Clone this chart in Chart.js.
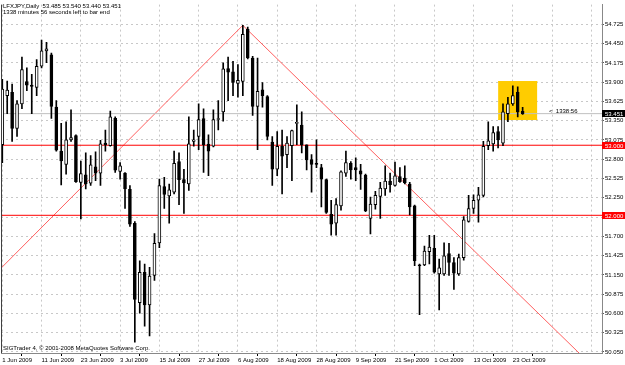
<!DOCTYPE html>
<html lang="en">
<head>
<meta charset="UTF-8">
<title>LFXJPY Daily</title>
<script src="https://cdn.jsdelivr.net/npm/chart.js@4.4.1/dist/chart.umd.min.js"></script>
<style>
  html, body { margin: 0; padding: 0; background: #fff; }
  #wrap { width: 625px; height: 365px; }
</style>
</head>
<body>
<div id="wrap"><canvas id="chart" width="625" height="365"></canvas></div>
<script>
// axis labels
const dateTicks = [0, 8, 16, 24, 32, 40, 48, 56, 64, 72, 80, 88, 96, 104];
const dateLabels = ['1 Jun 2009', '11 Jun 2009', '23 Jun 2009', '3 Jul 2009', '15 Jul 2009', '27 Jul 2009',
  '6 Aug 2009', '18 Aug 2009', '28 Aug 2009', '9 Sep 2009', '21 Sep 2009', '1 Oct 2009', '13 Oct 2009', '23 Oct 2009'];
const gridCols = [4, 12, 20, 28, 36, 44, 52, 60, 68, 76, 84, 92, 100, 108, 116];
const priceTicks = [50.050, 50.325, 50.600, 50.875, 51.150, 51.425, 51.700, 51.975, 52.250,
  52.525, 52.800, 53.075, 53.350, 53.625, 53.900, 54.175, 54.450, 54.725];

// daily candles, 1 Jun 2009 .. 27 Oct 2009
const opens = [53.007, 53.707, 53.755, 53.241, 53.591, 53.909, 53.857, 53.825, 54.127, 54.347,
  54.291, 53.545, 52.915, 52.727, 53.077, 53.139, 52.471, 52.579, 52.457, 52.691,
  52.601, 53.031, 52.993, 53.385, 52.625, 52.601, 52.369, 51.887, 50.753, 51.187,
  50.721, 51.141, 51.607, 52.411, 52.275, 52.331, 52.765, 52.509, 52.447, 53.055,
  53.125, 53.381, 53.017, 52.985, 53.367, 53.475, 54.095, 54.049, 53.881, 53.909,
  54.655, 54.245, 53.553, 53.791, 53.693, 53.045, 52.657, 52.985, 52.867, 52.993,
  53.311, 53.287, 53.007, 52.797, 52.737, 52.681, 52.509, 52.013, 51.887, 52.135,
  52.601, 52.741, 52.681, 52.635, 52.573, 51.957, 52.153, 52.271, 52.377, 52.489,
  52.425, 52.551, 52.531, 52.447, 52.135, 51.295, 51.291, 51.481, 51.529, 51.165,
  51.165, 51.453, 51.327, 51.165, 51.397, 51.911, 52.097, 52.215, 52.285, 52.993,
  53.017, 53.195, 53.031, 53.451, 53.591, 53.755, 53.485];
const highs = [53.941, 53.917, 53.871, 53.637, 54.259, 54.105, 54.011, 54.221, 54.501, 54.469,
  54.315, 53.637, 53.311, 53.335, 53.507, 53.147, 52.775, 52.891, 52.853, 52.905,
  53.069, 53.217, 53.489, 53.405, 52.751, 52.611, 52.425, 51.911, 51.351, 51.305,
  51.259, 51.739, 52.517, 52.541, 52.447, 52.915, 52.891, 52.657, 53.405, 53.217,
  53.591, 53.521, 53.147, 53.507, 53.637, 54.175, 54.259, 54.197, 54.151, 54.711,
  54.687, 54.267, 54.245, 53.895, 53.707, 53.125, 53.195, 53.217, 53.125, 53.217,
  53.577, 53.475, 53.007, 52.867, 53.077, 52.727, 52.517, 52.215, 52.237, 52.635,
  52.915, 52.765, 52.821, 52.727, 52.587, 52.261, 52.341, 52.471, 52.705, 52.601,
  52.761, 52.681, 52.705, 52.471, 52.145, 51.305, 51.561, 51.715, 51.715, 51.375,
  51.607, 51.599, 51.397, 51.445, 51.981, 52.285, 52.293, 52.401, 53.055, 53.335,
  53.265, 53.265, 53.591, 53.685, 53.847, 53.833, 53.540];
const lows = [52.751, 53.451, 53.055, 53.125, 53.521, 53.777, 53.451, 53.707, 54.105, 54.180,
  53.381, 52.915, 52.433, 52.587, 53.055, 52.471, 51.949, 52.377, 52.425, 52.495,
  52.425, 52.915, 52.985, 52.611, 52.517, 52.097, 51.841, 50.190, 50.605, 50.417,
  50.277, 51.071, 51.537, 52.097, 51.887, 52.307, 52.153, 52.027, 52.355, 52.985,
  52.937, 52.611, 52.565, 52.975, 53.217, 53.343, 53.637, 53.707, 53.685, 53.707,
  54.231, 53.427, 52.937, 53.545, 53.077, 52.425, 52.565, 52.307, 52.681, 52.495,
  53.007, 52.891, 52.649, 52.331, 52.681, 52.121, 52.027, 51.715, 51.715, 52.075,
  52.555, 52.517, 52.495, 52.369, 52.051, 51.733, 52.089, 51.957, 52.285, 52.331,
  52.415, 52.471, 52.447, 52.005, 51.281, 50.581, 51.281, 51.305, 51.173, 50.651,
  51.141, 51.141, 50.941, 51.141, 51.361, 51.901, 52.027, 51.901, 52.261, 52.937,
  52.915, 52.961, 52.993, 53.335, 53.567, 53.405, 53.440];
const closes = [53.801, 53.787, 53.241, 53.591, 54.081, 53.857, 53.839, 54.127, 54.347, 54.375,
  53.553, 52.929, 52.775, 53.077, 53.111, 52.481, 52.597, 52.447, 52.719, 52.601,
  53.021, 53.003, 53.405, 52.643, 52.705, 52.377, 51.873, 50.801, 51.187, 50.721,
  51.131, 51.599, 52.425, 52.299, 52.363, 52.741, 52.509, 52.461, 53.021, 53.077,
  53.367, 53.007, 52.915, 53.367, 53.381, 54.091, 54.043, 53.895, 53.927, 54.581,
  54.245, 53.553, 53.769, 53.707, 53.125, 52.657, 52.985, 52.845, 53.031, 53.209,
  53.325, 53.007, 52.789, 52.727, 52.727, 52.517, 52.041, 51.873, 52.153, 52.621,
  52.751, 52.649, 52.649, 52.587, 52.061, 52.159, 52.285, 52.387, 52.489, 52.439,
  52.565, 52.481, 52.461, 52.121, 51.351, 51.277, 51.491, 51.547, 51.187, 51.249,
  51.421, 51.327, 51.173, 51.397, 51.935, 52.097, 52.215, 52.293, 52.985, 53.063,
  53.181, 53.077, 53.475, 53.591, 53.707, 53.475, 53.451];

// chart objects
const levelPrices = [53.000, 52.000];
const bidPrice = 53.451;
const trendUpX = [-1, 49];
const trendUpY = [51.193, 54.711];
const trendDownX = [49, 118];
const trendDownY = [54.711, 50.000];
const boxX = [101, 109];
const boxY = [53.367, 53.909];

// view window (y range picked so the level lines land on whole pixels)
const X_MIN = -0.265, X_MAX = 122.17;
const Y_MIN = 50.035, Y_MAX = 55.007;
const FONT = '"Liberation Sans", Arial, sans-serif';

function seg(xs, ys) {
  return xs.map((x, i) => ({ x: x, y: ys[i] }));
}
function hline(v) {
  return [{ x: X_MIN - 5, y: v }, { x: X_MAX + 5, y: v }];
}

const bodies = opens.map((o, i) => ({ x: i, y: [o, closes[i]] }));
const wicks = lows.map((l, i) => ({ x: i, y: [l, highs[i]] }));
const bodyColors = opens.map((o, i) => closes[i] >= o ? '#ffffff' : '#000000');

// texts, left frame and price tags on the axis
const decorations = {
  id: 'decorations',
  afterDraw(chart) {
    const { ctx, chartArea: a, scales: { y } } = chart;
    ctx.save();
    ctx.strokeStyle = '#404040';
    ctx.lineWidth = 1;
    ctx.beginPath();
    ctx.moveTo(a.left + 0.5, a.top);
    ctx.lineTo(a.left + 0.5, a.bottom);
    ctx.stroke();

    ctx.font = '6px ' + FONT;
    ctx.fillStyle = '#000';
    ctx.textAlign = 'left';
    ctx.textBaseline = 'alphabetic';
    ctx.fillText('LFXJPY,Daily  53.485 53.540 53.440 53.451', 3, 7.5);
    ctx.fillText('1338 minutes 56 seconds left to bar end', 3, 14.3);
    ctx.fillText('SIGTrader 4, \u00a9 2001-2008 MetaQuotes Software Corp.', 3, 349.5);
    ctx.textBaseline = 'middle';
    ctx.fillText('<  1338:56', 549, y.getPixelForValue(bidPrice) - 2);

    const tags = [
      { v: levelPrices[0], bg: '#ff0000' },
      { v: levelPrices[1], bg: '#ff0000' },
      { v: bidPrice, bg: '#000000' }
    ];
    tags.forEach(t => {
      const py = Math.floor(y.getPixelForValue(t.v));
      ctx.fillStyle = t.bg;
      ctx.fillRect(a.right, py - 3, chart.width - a.right, 7);
      ctx.fillStyle = '#ffffff';
      ctx.fillText(t.v.toFixed(3), a.right + 3, py + 1);
    });
    ctx.restore();
  }
};

const lineStyle = { type: 'line', xAxisID: 'x', yAxisID: 'y', pointRadius: 0, fill: false, borderWidth: 1 };

new Chart(document.getElementById('chart'), {
  type: 'bar',
  data: {
    datasets: [
      { data: bodies, xAxisID: 'x', yAxisID: 'y', grouped: false, barThickness: 3, minBarLength: 1,
        backgroundColor: bodyColors, borderColor: '#000', borderWidth: 1, borderSkipped: false },
      { data: wicks, xAxisID: 'x', yAxisID: 'y', grouped: false, barThickness: 1,
        backgroundColor: '#000', borderWidth: 0 },
      { ...lineStyle, data: hline(levelPrices[0]), borderColor: '#ff0000' },
      { ...lineStyle, data: hline(levelPrices[1]), borderColor: '#ff0000' },
      { ...lineStyle, data: hline(bidPrice), borderColor: '#c0c0c0' },
      { ...lineStyle, data: seg(trendUpX, trendUpY), borderColor: '#ff6060' },
      { ...lineStyle, data: seg(trendDownX, trendDownY), borderColor: '#ff6060' },
      { ...lineStyle, data: seg(boxX, [boxY[1], boxY[1]]), borderColor: '#ffcc00', backgroundColor: '#ffcc00', fill: '+1' },
      { ...lineStyle, data: seg(boxX, [boxY[0], boxY[0]]), borderColor: '#ffcc00' }
    ]
  },
  options: {
    responsive: false,
    animation: false,
    events: [],
    layout: { padding: { left: 1, right: 0, top: 0, bottom: 0 } },
    plugins: { legend: { display: false }, tooltip: { enabled: false } },
    scales: {
      x: {
        type: 'linear', position: 'bottom', min: X_MIN, max: X_MAX, offset: false,
        afterBuildTicks: s => { s.ticks = dateTicks.map(v => ({ value: v })); },
        afterFit: s => { s.height = 12; },
        ticks: {
          autoSkip: false, maxRotation: 0, minRotation: 0, align: 'start', padding: 1,
          color: '#000', font: { size: 6, family: FONT },
          callback: v => { const k = dateTicks.indexOf(v); return k >= 0 ? dateLabels[k] : ''; }
        },
        grid: { drawOnChartArea: false, drawTicks: true, tickLength: 3, tickColor: '#000', tickBorderDash: [] },
        border: { display: true, color: '#888888', width: 1 }
      },
      xg: {
        type: 'linear', position: 'bottom', min: X_MIN, max: X_MAX, offset: false,
        afterBuildTicks: s => { s.ticks = gridCols.map(v => ({ value: v })); },
        afterFit: s => { s.height = 0; },
        ticks: { display: false },
        grid: { color: '#c8c8c8', drawTicks: false },
        border: { display: false, dash: [2, 3] }
      },
      y: {
        type: 'linear', position: 'right', min: Y_MIN, max: Y_MAX,
        afterBuildTicks: s => { s.ticks = priceTicks.map(v => ({ value: v })); },
        afterFit: s => { s.width = 23; },
        ticks: {
          autoSkip: false, padding: 1, color: '#000', font: { size: 6, family: FONT },
          callback: v => v.toFixed(3)
        },
        grid: { color: '#c8c8c8', tickLength: 2, tickColor: '#555555', tickBorderDash: [] },
        border: { display: true, color: '#888888', width: 1, dash: [2, 3] }
      }
    }
  },
  plugins: [decorations]
});
</script>
</body>
</html>
